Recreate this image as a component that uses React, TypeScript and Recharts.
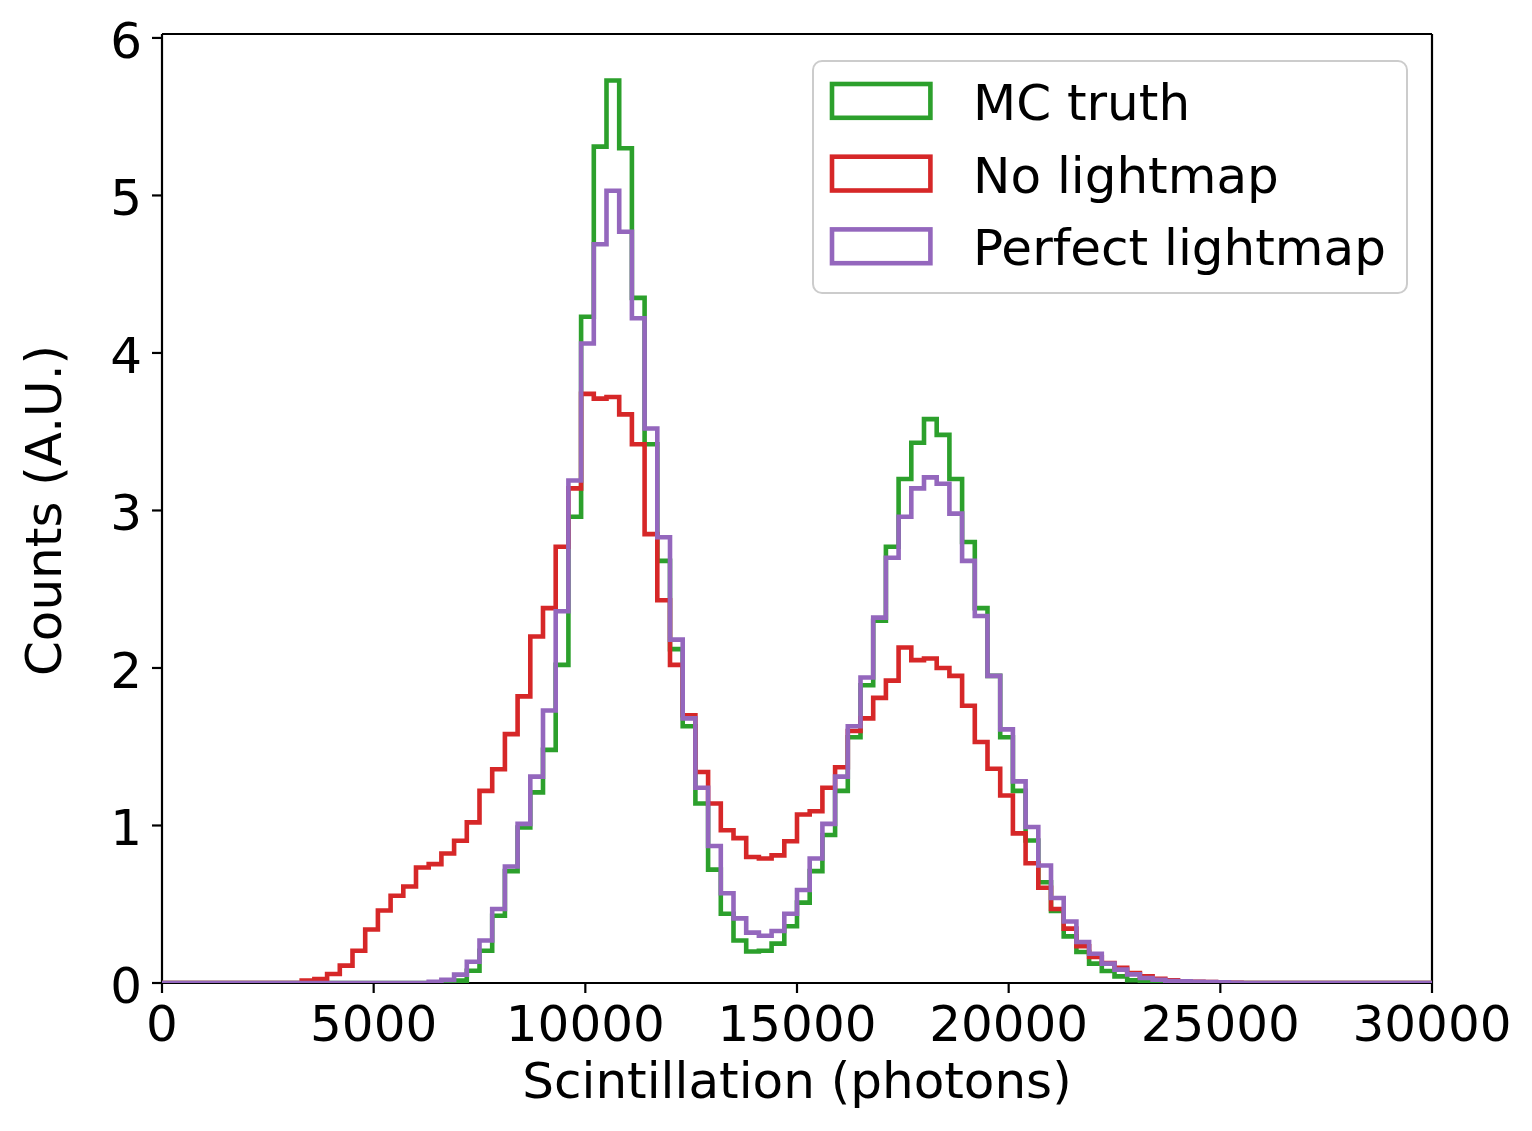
import React from 'react';
import { ComposedChart, Line, XAxis, YAxis, Label, Legend, ReferenceLine } from 'recharts';

// Histogram: 100 bins of width 300 photons over 0..30000
const BIN_WIDTH = 300;
const N_BINS = 100;

const mcTruth = [
  0, 0, 0, 0, 0, 0, 0, 0, 0, 0,
  0, 0, 0, 0, 0, 0, 0, 0, 0, 0,
  0, 0, 0, 0.015, 0.078, 0.205, 0.427, 0.71, 0.987, 1.21,
  1.48, 2.02, 2.96, 4.23, 5.31, 5.73, 5.3, 4.35, 3.42, 2.68,
  2.12, 1.63, 1.14, 0.72, 0.44, 0.27, 0.2, 0.205, 0.25, 0.36,
  0.51, 0.71, 0.94, 1.22, 1.56, 1.89, 2.3, 2.77, 3.2, 3.43,
  3.58, 3.48, 3.2, 2.8, 2.38, 1.95, 1.56, 1.22, 0.905, 0.64,
  0.457, 0.296, 0.197, 0.123, 0.076, 0.042, 0.017, 0.006, 0.002, 0,
  0, 0, 0, 0, 0, 0, 0, 0, 0, 0,
  0, 0, 0, 0, 0, 0, 0, 0, 0, 0,
];

const noLightmap = [
  0, 0, 0, 0, 0, 0, 0, 0, 0, 0,
  0, 0.015, 0.025, 0.057, 0.11, 0.205, 0.34, 0.46, 0.554, 0.613,
  0.733, 0.755, 0.822, 0.903, 1.02, 1.22, 1.357, 1.58, 1.82, 2.2,
  2.38, 2.77, 3.14, 3.74, 3.71, 3.72, 3.61, 3.42, 2.85, 2.43,
  2.02, 1.7, 1.34, 1.14, 0.97, 0.92, 0.8, 0.79, 0.81, 0.9,
  1.07, 1.09, 1.24, 1.37, 1.6, 1.68, 1.81, 1.92, 2.13, 2.05,
  2.06, 2.0, 1.95, 1.76, 1.53, 1.36, 1.19, 0.95, 0.76, 0.605,
  0.47, 0.345, 0.233, 0.165, 0.127, 0.097, 0.063, 0.042, 0.027, 0.017,
  0.011, 0.008, 0.006, 0.004, 0.002, 0, 0, 0, 0, 0,
  0, 0, 0, 0, 0, 0, 0, 0, 0, 0,
];

const perfectLightmap = [
  0, 0, 0, 0, 0, 0, 0, 0, 0, 0,
  0, 0, 0, 0, 0, 0, 0, 0, 0, 0,
  0, 0.008, 0.02, 0.053, 0.135, 0.27, 0.47, 0.74, 1.01, 1.31,
  1.73, 2.36, 3.19, 4.06, 4.69, 5.03, 4.77, 4.22, 3.52, 2.83,
  2.18, 1.68, 1.24, 0.87, 0.57, 0.41, 0.32, 0.3, 0.33, 0.44,
  0.59, 0.79, 1.01, 1.31, 1.63, 1.94, 2.32, 2.7, 2.96, 3.14,
  3.21, 3.17, 2.98, 2.68, 2.33, 1.95, 1.61, 1.28, 0.99, 0.746,
  0.54, 0.39, 0.26, 0.186, 0.123, 0.085, 0.055, 0.032, 0.021, 0.013,
  0.011, 0.008, 0.006, 0.004, 0.002, 0, 0, 0, 0, 0,
  0, 0, 0, 0, 0, 0, 0, 0, 0, 0,
];

const xTicks = [0, 5000, 10000, 15000, 20000, 25000, 30000];
const yTicks = [0, 1, 2, 3, 4, 5, 6];
const X_MAX = 30000;
const Y_MAX = 6.025;

const seriesDefs = [
  { key: 'mc', name: 'MC truth', color: '#2ca02c' },
  { key: 'nolm', name: 'No lightmap', color: '#d62728' },
  { key: 'perf', name: 'Perfect lightmap', color: '#9467bd' },
];

// step-after points at bin edges (last edge repeats the last bin value)
const data = Array.from({ length: N_BINS + 1 }, (_, i) => {
  const b = Math.min(i, N_BINS - 1);
  return {
    x: i * BIN_WIDTH,
    mc: mcTruth[b],
    nolm: noLightmap[b],
    perf: perfectLightmap[b],
  };
});

const FONT = 'DejaVu Sans';
const FS = 50;
const SPINE = { stroke: '#000', strokeWidth: 2.2 };

const XTick = (props: any) => {
  const { x, y, payload } = props;
  return (
    <text x={x} y={y + 48} textAnchor="middle" fontFamily={FONT} fontSize={FS} fill="#000">
      {payload.value}
    </text>
  );
};

const YTick = (props: any) => {
  const { x, y, payload } = props;
  return (
    <text x={x - 10} y={y + 20} textAnchor="end" fontFamily={FONT} fontSize={FS} fill="#000">
      {payload.value}
    </text>
  );
};

const XLabelContent = (props: any) => {
  const vb = props.viewBox || {};
  return (
    <text x={vb.x + vb.width / 2} y={vb.y + 115} textAnchor="middle" fontFamily={FONT} fontSize={FS} fill="#000">
      Scintillation (photons)
    </text>
  );
};

const YLabelContent = (props: any) => {
  const vb = props.viewBox || {};
  const cx = vb.x + 61;
  const cy = vb.y + vb.height / 2 + 2;
  return (
    <text x={cx} y={cy} transform={`rotate(-90, ${cx}, ${cy})`} textAnchor="middle" fontFamily={FONT} fontSize={FS} fill="#000">
      Counts (A.U.)
    </text>
  );
};

const LegendContent = () => (
  <svg width={596} height={234} style={{ display: 'block' }}>
    <rect x={1} y={1} width={594} height={232} rx={9} ry={9} fill="#ffffff" fillOpacity={0.8} stroke="#cccccc" strokeWidth={2} />
    {seriesDefs.map((s, k) => {
      const y0 = 21.7 + k * 72.7;
      return (
        <g key={s.key}>
          <rect x={20} y={y0 + 2.3} width={98.4} height={33.8} fill="none" stroke={s.color} strokeWidth={4.6} />
          <text x={161} y={y0 + 38.3} fontFamily={FONT} fontSize={FS} fill="#000">
            {s.name}
          </text>
        </g>
      );
    })}
  </svg>
);

export default function App() {
  return (
    <div style={{ position: 'absolute', left: 0, top: 0, width: 1532, height: 1131, background: '#fff' }}>
      <ComposedChart
        width={1532}
        height={1131}
        data={data}
        margin={{ top: 34, right: 100, bottom: 0, left: 0 }}
      >
        <XAxis
          dataKey="x"
          type="number"
          domain={[0, X_MAX]}
          ticks={xTicks}
          interval={0}
          allowDataOverflow
          height={148}
          tickSize={10}
          tickMargin={0}
          tickLine={SPINE}
          axisLine={SPINE}
          tick={<XTick />}
        >
          <Label content={<XLabelContent />} />
        </XAxis>
        <YAxis
          type="number"
          domain={[0, Y_MAX]}
          ticks={yTicks}
          interval={0}
          allowDataOverflow
          width={162}
          tickSize={10}
          tickMargin={0}
          tickLine={SPINE}
          axisLine={SPINE}
          tick={<YTick />}
        >
          <Label content={<YLabelContent />} />
        </YAxis>
        <ReferenceLine y={Y_MAX} stroke="#000" strokeWidth={2.2} ifOverflow="visible" />
        <ReferenceLine x={X_MAX} stroke="#000" strokeWidth={2.2} ifOverflow="visible" />
        {seriesDefs.map((s) => (
          <Line
            key={s.key}
            dataKey={s.key}
            name={s.name}
            type="stepAfter"
            stroke={s.color}
            strokeWidth={4.6}
            strokeLinejoin="miter"
            dot={false}
            activeDot={false}
            isAnimationActive={false}
            {...({ zIndex: 600 } as any)}
          />
        ))}
        <Legend
          layout="vertical"
          align="center"
          verticalAlign="middle"
          content={<LegendContent />}
          wrapperStyle={{ left: 812, top: 60, width: 596, height: 234, position: 'absolute' }}
        />
      </ComposedChart>
    </div>
  );
}
